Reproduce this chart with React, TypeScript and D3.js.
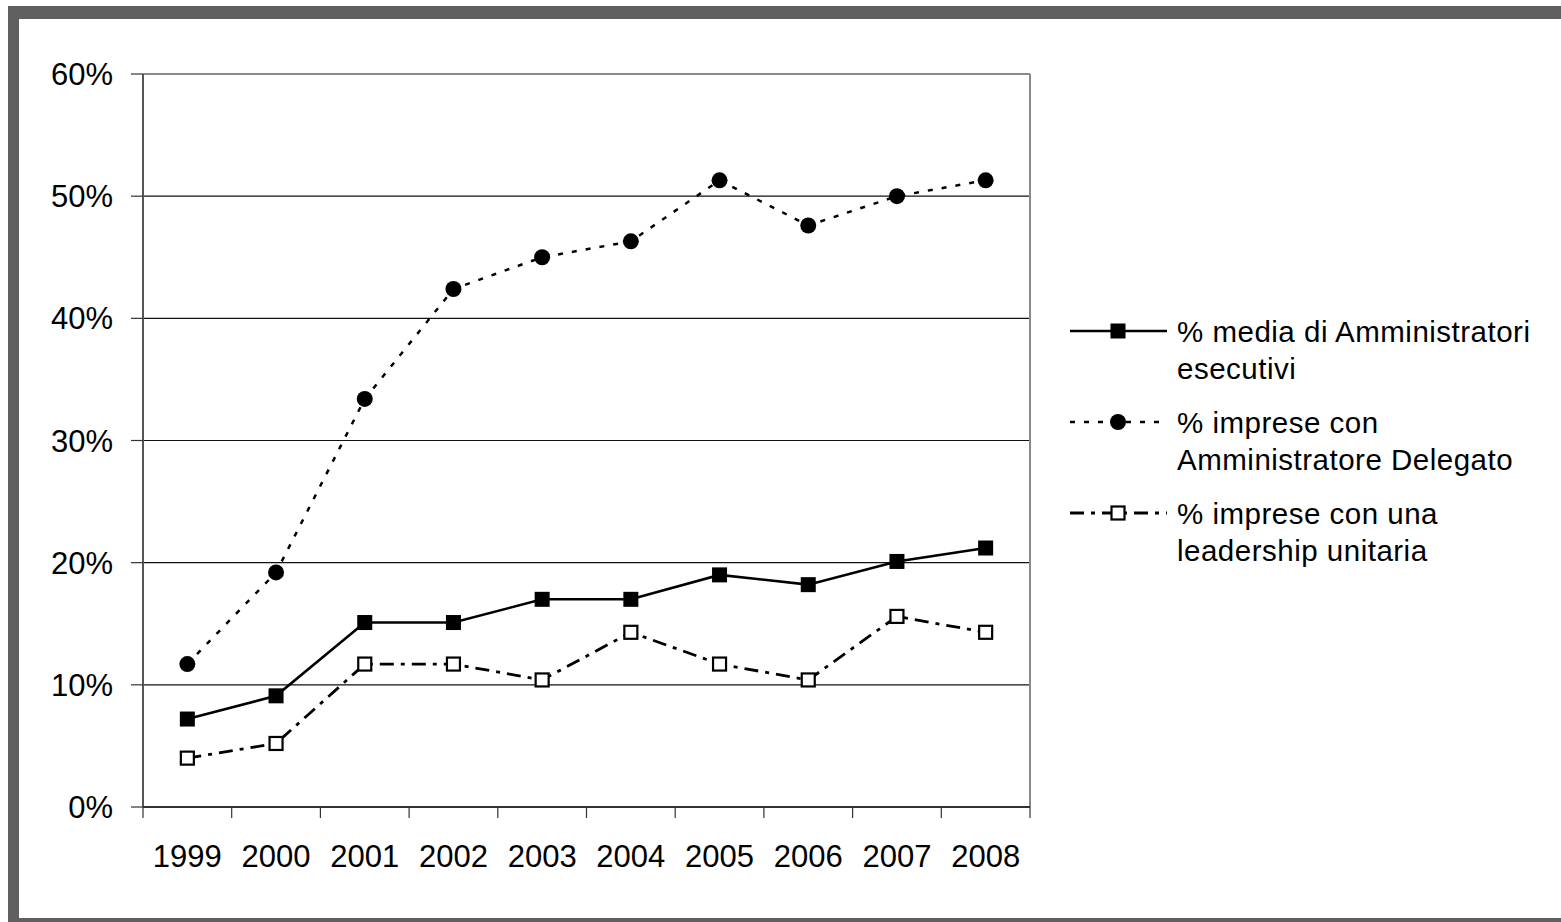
import { line as d3Line, scaleBand, scaleLinear } from "d3";

const years = ["1999", "2000", "2001", "2002", "2003", "2004", "2005", "2006", "2007", "2008"];
const mediaEsecutivi = [7.2, 9.1, 15.1, 15.1, 17.0, 17.0, 19.0, 18.2, 20.1, 21.2];
const impreseAD = [11.7, 19.2, 33.4, 42.4, 45.0, 46.3, 51.3, 47.6, 50.0, 51.3];
const leadershipUnitaria = [4.0, 5.2, 11.7, 11.7, 10.4, 14.3, 11.7, 10.4, 15.6, 14.3];
const yTicks = [0, 10, 20, 30, 40, 50, 60];

const legendLabels = [
  ["% media di Amministratori", "esecutivi"],
  ["% imprese con", "Amministratore Delegato"],
  ["% imprese con una", "leadership unitaria"]
];

const W = 1561;
const H = 922;
const FONT = "'Liberation Sans', Arial, sans-serif";

type Marker = "filledSquare" | "circle" | "openSquare";

const series: { values: number[]; dash?: string; width: number; marker: Marker }[] = [
  { values: mediaEsecutivi, width: 2.6, marker: "filledSquare" },
  { values: impreseAD, dash: "5,9", width: 2.5, marker: "circle" },
  { values: leadershipUnitaria, dash: "14,7,4,7", width: 2.8, marker: "openSquare" }
];

function MarkerShape({ type, cx, cy }: { type: Marker; cx: number; cy: number }) {
  if (type === "circle") return <circle cx={cx} cy={cy} r={8} fill="#000" />;
  if (type === "filledSquare")
    return <rect x={cx - 7.5} y={cy - 7.5} width={15} height={15} fill="#000" />;
  return <rect x={cx - 6.5} y={cy - 6.5} width={13} height={13} fill="#fff" stroke="#000" strokeWidth={2.2} />;
}

export default function App() {
  const left = 143;
  const right = 1030;
  const top = 74;
  const bottom = 807;

  const x = scaleBand<string>().domain(years).range([left, right]);
  const y = scaleLinear().domain([0, 60]).range([bottom, top]);
  const cx = (yr: string) => (x(yr) ?? 0) + x.bandwidth() / 2;

  const path = d3Line<number>()
    .x((_, i) => cx(years[i]))
    .y((d) => y(d));

  const legendX = 1070;
  const legendY = [331, 422, 513];

  return (
    <svg
      width={W}
      height={H}
      style={{ position: "absolute", left: 0, top: 0, background: "#fff" }}
      fontFamily={FONT}
    >
      {/* outer frame */}
      <rect x={8} y={6} width={W - 8} height={13} fill="#5f5f5f" />
      <rect x={8} y={6} width={11} height={H - 6} fill="#5f5f5f" />
      <rect x={8} y={918} width={W - 8} height={10} fill="#5f5f5f" />

      {/* gridlines */}
      {yTicks.slice(1, -1).map((t) => (
        <line key={t} x1={left} x2={right} y1={y(t)} y2={y(t)} stroke="#111" strokeWidth={1.2} />
      ))}
      {/* plot border */}
      <line x1={left} x2={right} y1={top} y2={top} stroke="#8a8a8a" strokeWidth={2} />
      <line x1={right} x2={right} y1={top} y2={bottom} stroke="#8a8a8a" strokeWidth={2} />

      {/* y axis */}
      <line x1={left} x2={left} y1={top} y2={bottom} stroke="#555" strokeWidth={2} />
      {yTicks.map((t) => (
        <g key={t}>
          <line x1={131} x2={left} y1={y(t)} y2={y(t)} stroke="#333" strokeWidth={1.2} />
          <text x={113} y={y(t)} dy="0.36em" textAnchor="end" fontSize={31} fill="#000">
            {t}%
          </text>
        </g>
      ))}

      {/* x axis */}
      <line x1={left} x2={right} y1={bottom} y2={bottom} stroke="#333" strokeWidth={2} />
      {[...years.map((yr) => x(yr) ?? 0), right].map((px, i) => (
        <line key={i} x1={px} x2={px} y1={bottom} y2={818} stroke="#333" strokeWidth={1.2} />
      ))}
      {years.map((yr) => (
        <text key={yr} x={cx(yr)} y={867} textAnchor="middle" fontSize={31} fill="#000">
          {yr}
        </text>
      ))}

      {/* series */}
      {series.map((s, si) => (
        <g key={si}>
          <path
            d={path(s.values) ?? undefined}
            fill="none"
            stroke="#000"
            strokeWidth={s.width}
            strokeDasharray={s.dash}
          />
          {s.values.map((v, i) => (
            <MarkerShape key={i} type={s.marker} cx={cx(years[i])} cy={y(v)} />
          ))}
        </g>
      ))}

      {/* legend */}
      {series.map((s, si) => (
        <g key={si}>
          <line
            x1={legendX}
            x2={legendX + 97}
            y1={legendY[si]}
            y2={legendY[si]}
            stroke="#000"
            strokeWidth={s.width}
            strokeDasharray={s.dash}
          />
          <MarkerShape type={s.marker} cx={legendX + 48} cy={legendY[si]} />
          <text x={1177} y={legendY[si]} dy="0.36em" fontSize={29.5} letterSpacing={0.5} fill="#000">
            {legendLabels[si][0]}
          </text>
          <text x={1177} y={legendY[si] + 37} dy="0.36em" fontSize={29.5} letterSpacing={0.5} fill="#000">
            {legendLabels[si][1]}
          </text>
        </g>
      ))}
    </svg>
  );
}
